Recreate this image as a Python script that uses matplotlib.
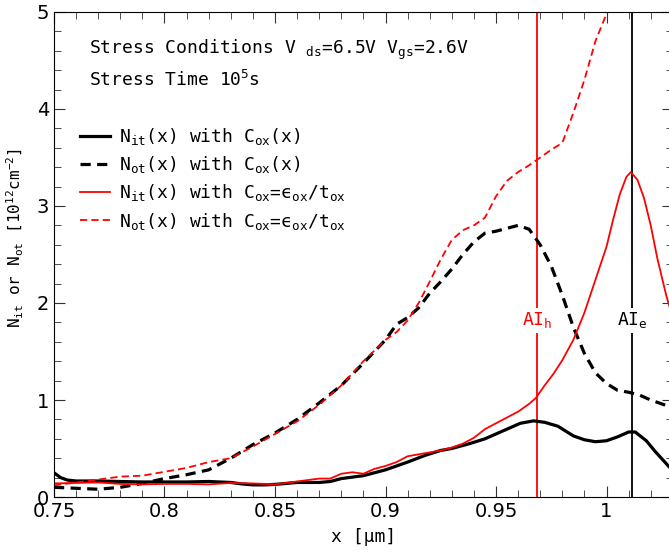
import matplotlib
matplotlib.use("Agg")
import matplotlib.pyplot as plt
from matplotlib.ticker import MultipleLocator

# position along channel [um]
x_nit_cox = [0.750, 0.753, 0.756, 0.760, 0.770, 0.780, 0.790, 0.800, 0.810, 0.820,
             0.830, 0.835, 0.840, 0.845, 0.850, 0.860, 0.870, 0.875, 0.880, 0.890,
             0.900, 0.910, 0.918, 0.925, 0.930, 0.938, 0.945, 0.950, 0.955, 0.961,
             0.967, 0.972, 0.978, 0.985, 0.990, 0.995, 1.000, 1.005, 1.010, 1.013,
             1.018, 1.022, 1.030]
nit_cox = [0.25, 0.20, 0.175, 0.165, 0.165, 0.16, 0.155, 0.155, 0.155, 0.16,
           0.15, 0.135, 0.125, 0.125, 0.13, 0.15, 0.15, 0.16, 0.19, 0.22,
           0.28, 0.36, 0.43, 0.48, 0.50, 0.55, 0.60, 0.65, 0.70, 0.76,
           0.785, 0.77, 0.73, 0.63, 0.59, 0.57, 0.58, 0.62, 0.67, 0.67,
           0.58, 0.47, 0.27]

x_nit_ox = [0.750, 0.760, 0.770, 0.780, 0.790, 0.800, 0.810, 0.820, 0.830, 0.840,
            0.850, 0.860, 0.870, 0.875, 0.880, 0.885, 0.890, 0.895, 0.900, 0.905,
            0.910, 0.915, 0.920, 0.925, 0.930, 0.935, 0.940, 0.945, 0.950, 0.955,
            0.960, 0.965, 0.968, 0.972, 0.976, 0.980, 0.985, 0.990, 0.995, 1.000,
            1.003, 1.006, 1.009, 1.011, 1.014, 1.017, 1.020, 1.023, 1.027, 1.030]
nit_ox = [0.14, 0.145, 0.15, 0.135, 0.13, 0.135, 0.135, 0.13, 0.145, 0.14,
          0.13, 0.16, 0.19, 0.19, 0.24, 0.255, 0.24, 0.29, 0.32, 0.36,
          0.42, 0.44, 0.46, 0.48, 0.51, 0.55, 0.61, 0.70, 0.76, 0.82,
          0.88, 0.96, 1.02, 1.15, 1.27, 1.41, 1.62, 1.90, 2.24, 2.58,
          2.86, 3.12, 3.30, 3.35, 3.27, 3.08, 2.80, 2.46, 2.08, 1.85]

x_not_cox = [0.750, 0.760, 0.770, 0.780, 0.790, 0.800, 0.810, 0.820, 0.830, 0.840,
             0.850, 0.860, 0.870, 0.880, 0.890, 0.900, 0.905, 0.910, 0.915, 0.920,
             0.925, 0.930, 0.935, 0.940, 0.945, 0.950, 0.955, 0.960, 0.965, 0.970,
             0.975, 0.980, 0.985, 0.990, 0.995, 1.000, 1.005, 1.010, 1.015, 1.020,
             1.030]
not_cox = [0.10, 0.09, 0.08, 0.10, 0.14, 0.19, 0.23, 0.28, 0.40, 0.54,
           0.66, 0.80, 0.97, 1.15, 1.38, 1.62, 1.78, 1.85, 1.95, 2.10,
           2.22, 2.35, 2.50, 2.63, 2.72, 2.74, 2.77, 2.80, 2.76, 2.60,
           2.38, 2.08, 1.75, 1.48, 1.28, 1.17, 1.10, 1.08, 1.05, 1.00,
           0.92]

x_not_ox = [0.750, 0.760, 0.770, 0.780, 0.790, 0.800, 0.810, 0.820, 0.830, 0.840,
            0.850, 0.860, 0.870, 0.880, 0.890, 0.900, 0.905, 0.910, 0.915, 0.920,
            0.925, 0.930, 0.935, 0.940, 0.945, 0.950, 0.955, 0.960, 0.965, 0.970,
            0.975, 0.980, 0.985, 0.990, 0.995, 1.000, 1.003]
not_ox = [0.12, 0.15, 0.18, 0.21, 0.22, 0.26, 0.30, 0.36, 0.40, 0.52,
          0.65, 0.78, 0.95, 1.15, 1.40, 1.62, 1.70, 1.82, 2.00, 2.22,
          2.45, 2.65, 2.75, 2.80, 2.88, 3.10, 3.26, 3.35, 3.42, 3.50,
          3.58, 3.65, 3.96, 4.30, 4.70, 4.98, 5.20]

ai_h = 0.9685
ai_e = 1.0115

mono = "DejaVu Sans Mono"
plt.rcParams["mathtext.fontset"] = "custom"
plt.rcParams["mathtext.rm"] = mono
plt.rcParams["mathtext.it"] = mono

fig = plt.figure(figsize=(6.69, 5.57), dpi=100)
ax = fig.add_axes([0.0807, 0.1077, 0.925, 0.8708])

ax.plot(x_nit_cox, nit_cox, color="black", lw=2.3, label=r"N$_{it}$(x) with C$_{ox}$(x)")
ax.plot(x_not_cox, not_cox, color="black", lw=2.3, dashes=(3.2, 2.0),
        label=r"N$_{ot}$(x) with C$_{ox}$(x)")
ax.plot(x_nit_ox, nit_ox, color="red", lw=1.3,
        label="N$_{it}$(x) with C$_{ox}$=\u03f5$_{ox}$/t$_{ox}$")
ax.plot(x_not_ox, not_ox, color="red", lw=1.3, dashes=(4, 2.3),
        label="N$_{ot}$(x) with C$_{ox}$=\u03f5$_{ox}$/t$_{ox}$")

ax.axvline(ai_h, color="red", lw=1.3, zorder=1)
ax.axvline(ai_e, color="black", lw=1.3, zorder=1)
ax.text(ai_h, 1.82, "AI$_h$", color="red", ha="center", va="center", family=mono,
        fontsize=13, bbox=dict(facecolor="white", edgecolor="none", pad=2), zorder=3)
ax.text(ai_e, 1.82, "AI$_e$", color="black", ha="center", va="center", family=mono,
        fontsize=13, bbox=dict(facecolor="white", edgecolor="none", pad=2), zorder=3)

ax.text(0.766, 4.61, "Stress Conditions V $_{ds}$=6.5V V$_{gs}$=2.6V", family=mono,
        fontsize=13, va="center")
ax.text(0.766, 4.30, "Stress Time 10$^5$s", family=mono, fontsize=13, va="center")

ax.legend(loc="upper left", bbox_to_anchor=(0.03, 0.78), frameon=False,
          prop={"family": mono, "size": 13}, handlelength=1.7, handletextpad=0.5,
          labelspacing=0.4, borderaxespad=0)

ax.set_xlim(0.75, 1.03)
ax.set_ylim(0, 5)
ax.xaxis.set_major_locator(MultipleLocator(0.05))
ax.xaxis.set_minor_locator(MultipleLocator(0.01))
ax.yaxis.set_major_locator(MultipleLocator(1))
ax.yaxis.set_minor_locator(MultipleLocator(0.2))
ax.set_xticks([0.75, 0.8, 0.85, 0.9, 0.95, 1.0])
ax.set_xticklabels(["0.75", "0.8", "0.85", "0.9", "0.95", "1"])
ax.tick_params(which="both", direction="in", top=True, right=True, labelsize=14,
               color="#333333")
ax.tick_params(which="major", length=8)
ax.tick_params(which="minor", length=5)

ax.set_xlabel("x [\u00b5m]", family=mono, fontsize=13, labelpad=5)
ax.set_ylabel(r"N$_{it}$ or N$_{ot}$ [10$^{12}$cm$^{-2}$]", family=mono, fontsize=11.5)
ax.yaxis.set_label_coords(-0.045, 0.534)

fig.savefig("out.png", dpi=100)
